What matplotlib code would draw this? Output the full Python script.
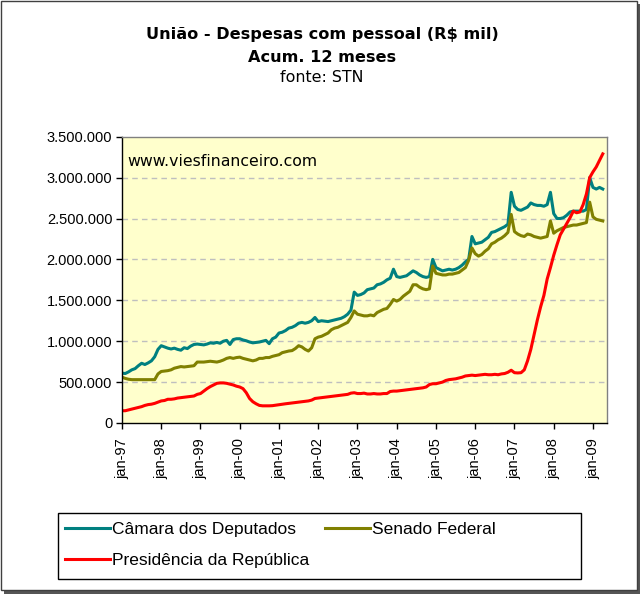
import matplotlib
matplotlib.use("Agg")
import matplotlib.pyplot as plt
from matplotlib.patches import Rectangle
from matplotlib.ticker import FuncFormatter

# valores em R$ mil (em milhares), mensais jan-97 .. abr-09
camara = [
    610, 605, 625, 650, 665, 700, 730, 715, 735, 760, 810, 900,          # 1997
    945, 930, 915, 905, 915, 900, 890, 920, 910, 940, 960, 965,          # 1998
    960, 955, 965, 980, 975, 985, 975, 1000, 1010, 960, 1020, 1030,      # 1999
    1030, 1015, 1005, 990, 980, 985, 990, 1000, 1010, 970, 1030, 1050,   # 2000
    1100, 1110, 1130, 1160, 1170, 1190, 1220, 1230, 1220, 1230, 1250, 1290,  # 2001
    1240, 1250, 1245, 1240, 1250, 1260, 1270, 1280, 1300, 1330, 1380, 1600,  # 2002
    1560, 1570, 1590, 1630, 1640, 1650, 1690, 1700, 1720, 1750, 1770, 1880,  # 2003
    1790, 1780, 1790, 1800, 1830, 1860, 1840, 1810, 1790, 1780, 1790, 2000,  # 2004
    1900, 1880, 1860, 1870, 1880, 1870, 1880, 1900, 1930, 1970, 2000, 2280,  # 2005
    2190, 2200, 2210, 2240, 2270, 2330, 2340, 2360, 2380, 2400, 2430, 2820,  # 2006
    2650, 2610, 2600, 2620, 2640, 2690, 2670, 2660, 2660, 2650, 2670, 2820,  # 2007
    2560, 2500, 2500, 2510, 2540, 2580, 2590, 2590, 2590, 2590, 2610, 3000,  # 2008
    2880, 2860, 2880, 2860,                                              # 2009
]
senado = [
    560, 545, 535, 530, 530, 530, 530, 530, 530, 530, 530, 600,
    630, 635, 640, 650, 670, 680, 690, 685, 690, 695, 700, 745,
    745, 745, 750, 755, 750, 745, 755, 770, 790, 800, 790, 800,
    805, 790, 780, 770, 760, 770, 790, 790, 800, 800, 815, 825,
    835, 860, 870, 880, 885, 910, 945, 930, 900, 880, 920, 1030,
    1050, 1060, 1080, 1100, 1140, 1160, 1170, 1190, 1210, 1230, 1290, 1370,
    1330, 1320, 1310, 1310, 1320, 1310, 1350, 1370, 1390, 1400, 1450, 1510,
    1490, 1510, 1550, 1580, 1610, 1690, 1690, 1660, 1640, 1630, 1640, 1920,
    1830, 1820, 1810, 1810, 1820, 1820, 1830, 1840, 1870, 1900, 1990, 2140,
    2070, 2040, 2060, 2100, 2130, 2190, 2210, 2240, 2260, 2290, 2330, 2550,
    2340, 2310, 2290, 2280, 2310, 2300, 2280, 2270, 2260, 2270, 2280, 2470,
    2320, 2350, 2370, 2390, 2400, 2410, 2420, 2420, 2430, 2440, 2450, 2700,
    2520, 2490, 2480, 2470,
]
presidencia = [
    150, 150, 160, 170, 180, 190, 200, 215, 225, 230, 240, 255,
    270, 275, 290, 290, 295, 305, 310, 315, 320, 325, 330, 350,
    360, 390, 420, 445, 465, 485, 490, 490, 485, 475, 465, 450,
    440, 420, 370, 300, 260, 235, 215, 210, 210, 210, 212, 218,
    225, 230, 235, 240, 245, 250, 255, 260, 265, 270, 280, 300,
    305, 310, 315, 320, 325, 330, 335, 340, 345, 350, 365, 370,
    360, 360, 365, 355, 355, 360, 355, 355, 360, 360, 385, 390,
    390, 395, 400, 405, 410, 415, 420, 425, 430, 440, 470, 480,
    480, 490, 500, 520, 530, 535, 540, 550, 560, 575, 580, 585,
    580, 585, 590, 595, 590, 590, 595, 590, 600, 605, 620, 645,
    615, 612, 615, 650, 760, 900, 1080, 1260, 1420, 1560, 1760, 1900,
    2050, 2180, 2300, 2370, 2440, 2510, 2590, 2570, 2580, 2670, 2800, 3000,
    3070, 3130, 3210, 3290,
]
xlabels = ["jan-97", "jan-98", "jan-99", "jan-00", "jan-01", "jan-02", "jan-03",
           "jan-04", "jan-05", "jan-06", "jan-07", "jan-08", "jan-09"]

W, H = 644, 597
fig = plt.figure(figsize=(W / 100, H / 100), dpi=100)


def fx(x):
    return x / W


def fy(y):
    return 1 - y / H


# moldura com sombra
fig.add_artist(Rectangle((fx(4), fy(594)), fx(636), 590 / H, transform=fig.transFigure,
                         facecolor="#555555", edgecolor="none", zorder=-3))
fig.add_artist(Rectangle((fx(1), fy(590)), fx(636), 589 / H, transform=fig.transFigure,
                         facecolor="white", edgecolor="#404040", lw=1, zorder=-2))

ax = fig.add_axes([fx(122), fy(423), fx(606.7 - 122), (423 - 136.7) / H])
ax.set_zorder(1)
ax.set_facecolor("#FFFFCC")

months = range(len(camara))
lc, = ax.plot(months, [v * 1000 for v in camara], color="#008080", lw=2.2)
ls, = ax.plot(months, [v * 1000 for v in senado], color="#808000", lw=2.2)
lp, = ax.plot(months, [v * 1000 for v in presidencia], color="#FF0000", lw=2.2)

ax.set_xlim(0, 148.2)
ax.set_ylim(0, 3500000)
ax.set_yticks(range(0, 3500001, 500000))
ax.yaxis.set_major_formatter(FuncFormatter(lambda v, p: f"{int(v):,}".replace(",", ".")))
ax.set_xticks(range(0, 145, 12))
ax.set_xticklabels(xlabels, rotation=90)
for y in range(500000, 3500000, 500000):
    ax.axhline(y, color="#BFBFBF", lw=1, ls=(0, (4, 3)), zorder=0.5)

for sp in ax.spines.values():
    sp.set_color("#808080")
    sp.set_linewidth(1)
ax.spines["left"].set_color("black")
ax.spines["bottom"].set_color("black")
ax.tick_params(direction="out", length=4, width=1, colors="black",
               labelsize=10.5, pad=3)
ax.tick_params(axis="x", pad=7)
for lab in ax.get_xticklabels() + ax.get_yticklabels():
    lab.set_fontfamily("Liberation Sans")

ax.text(0.012, 0.915, "www.viesfinanceiro.com",
        transform=ax.transAxes, fontsize=11.3, family="DejaVu Sans", va="center")

fig.text(0.5, fy(35), "União - Despesas com pessoal (R$ mil)", ha="center", va="center",
         fontsize=11.6, fontweight="bold", family="DejaVu Sans")
fig.text(0.5, fy(57), "Acum. 12 meses", ha="center", va="center",
         fontsize=11.6, fontweight="bold", family="DejaVu Sans")
fig.text(0.5, fy(78), "fonte: STN", ha="center", va="center",
         fontsize=11.4, family="DejaVu Sans")

# caixa da legenda
fig.add_artist(Rectangle((fx(58), fy(579)), fx(581 - 58), (579 - 513) / H,
                         transform=fig.transFigure, facecolor="white",
                         edgecolor="black", lw=1, zorder=1))
leg = fig.legend([lc, lp, ls], ["Câmara dos Deputados", "Presidência da República", "Senado Federal"],
                 ncol=2, loc="upper left", bbox_to_anchor=(fx(49), fy(506)),
                 frameon=False, handlelength=2.6, handletextpad=0.1, columnspacing=0.95,
                 labelspacing=0.95, prop={"family": "Liberation Sans", "size": 12.5})
leg.set_zorder(2)

fig.savefig("out.png", dpi=100, facecolor="white")
